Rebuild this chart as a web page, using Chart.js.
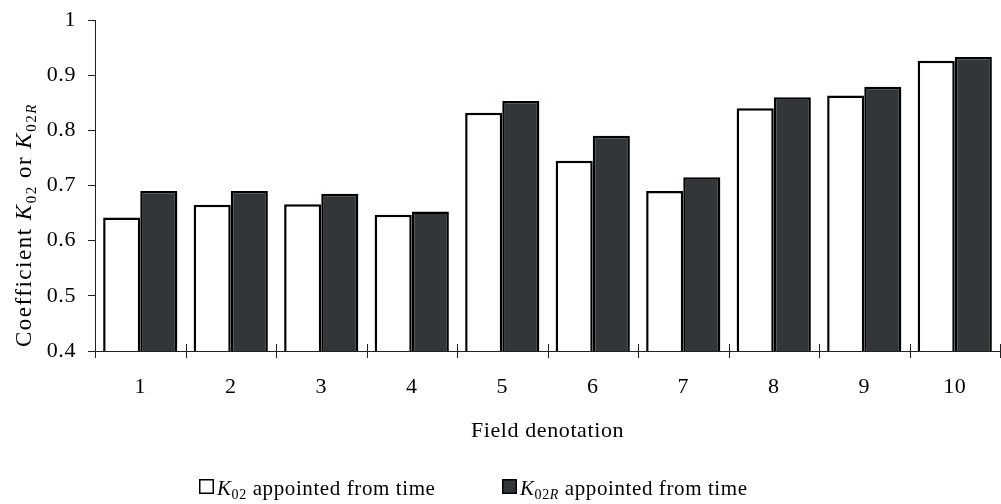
<!DOCTYPE html>
<html>
<head>
<meta charset="utf-8">
<script src="https://cdn.jsdelivr.net/npm/chart.js@4.4.0/dist/chart.umd.min.js"></script>
<style>
html, body { margin: 0; padding: 0; background: #fff; }
#wrap { width: 1001px; height: 504px; }
</style>
</head>
<body>
<div id="wrap"><canvas id="chart"></canvas></div>
<script>
// data
var fields = ['1', '2', '3', '4', '5', '6', '7', '8', '9', '10'];
var k02 = [0.642, 0.665, 0.666, 0.647, 0.832, 0.745, 0.690, 0.840, 0.863, 0.926];
var k02r = [0.690, 0.690, 0.685, 0.653, 0.853, 0.790, 0.715, 0.860, 0.879, 0.933];
var yTicks = [0.4, 0.5, 0.6, 0.7, 0.8, 0.9, 1];

var FONT = "'Liberation Serif', 'Times New Roman', serif";
var DARK = '#323638';

// text runs with italic K and subscripts
var yTitle = [
    {t: 'Coefficient '}, {t: 'K', i: 1}, {t: '02', s: 1}, {t: ' or '},
    {t: 'K', i: 1}, {t: '02', s: 1}, {t: 'R', s: 1, i: 1}
];
var legendItems = [
    {fill: '#fff', runs: [{t: 'K', i: 1}, {t: '02', s: 1}, {t: ' appointed from time'}]},
    {fill: DARK, runs: [{t: 'K', i: 1}, {t: '02', s: 1}, {t: 'R', s: 1, i: 1}, {t: ' appointed from time'}]}
];

var runFont = (r, size) => {
    let sz = r.s ? Math.round(size * 0.65) : size;
    return (r.i ? 'italic ' : '') + sz + 'px ' + FONT;
};
var drawRuns = (ctx, runs, x, y, size) => {
    ctx.textAlign = 'left';
    ctx.textBaseline = 'alphabetic';
    runs.forEach(r => {
        ctx.font = runFont(r, size);
        ctx.fillText(r.t, x, r.s ? y + size * 0.2 : y);
        x += ctx.measureText(r.t).width;
    });
};

var extras = {
    id: 'extras',
    beforeDraw(chart) {
        chart.ctx.letterSpacing = '0.6px';
    },
    afterDraw(chart) {
        let ctx = chart.ctx;
        let xs = chart.scales.x;
        let a = chart.chartArea;
        ctx.save();
        ctx.fillStyle = '#000';

        // x tick marks crossing the axis at category boundaries
        ctx.strokeStyle = '#222';
        ctx.lineWidth = 1;
        for (let i = 0; i <= fields.length; i++) {
            let px = Math.round(xs.getPixelForValue(i - 0.5)) + 0.5;
            ctx.beginPath();
            ctx.moveTo(px, a.bottom - 7);
            ctx.lineTo(px, a.bottom + 7);
            ctx.stroke();
        }

        // y title, written upwards from near the bottom of the axis
        ctx.save();
        ctx.letterSpacing = '1.5px';
        ctx.translate(31, 347);
        ctx.rotate(-Math.PI / 2);
        drawRuns(ctx, yTitle, 0, 0, 23);
        ctx.restore();

        // x title
        ctx.letterSpacing = '0.6px';
        ctx.font = '22px ' + FONT;
        ctx.textAlign = 'center';
        ctx.textBaseline = 'alphabetic';
        ctx.fillText('Field denotation', (a.left + a.right) / 2, 437);

        // legend
        legendItems.forEach((it, k) => {
            let bx = 199 + k * 303;
            ctx.fillStyle = it.fill;
            ctx.fillRect(bx, 479, 15, 15);
            ctx.strokeStyle = '#000';
            ctx.lineWidth = 1.5;
            ctx.strokeRect(bx + 0.75, 479.75, 13.5, 13.5);
            ctx.fillStyle = '#000';
            drawRuns(ctx, it.runs, bx + 18, 495, 21);
        });
        ctx.restore();
    }
};

new Chart('chart', {
    type: 'bar',
    data: {
        labels: fields,
        datasets: [{
            label: 'K02 appointed from time',
            data: k02,
            backgroundColor: '#fff',
            borderColor: '#000',
            borderWidth: 2.5
        }, {
            label: 'K02R appointed from time',
            data: k02r,
            backgroundColor: DARK,
            borderColor: '#000',
            borderWidth: 2.5
        }]
    },
    options: {
        responsive: true,
        maintainAspectRatio: false,
        animation: false,
        categoryPercentage: 0.82,
        barPercentage: 1.0,
        layout: {padding: {left: 0, right: 1, top: 20, bottom: 0}},
        plugins: {
            legend: {display: false},
            tooltip: {enabled: false}
        },
        scales: {
            x: {
                afterFit: (s) => { s.height = 153; s.paddingLeft = 0; s.paddingRight = 0; },
                grid: {display: true, drawOnChartArea: false, drawTicks: false},
                border: {display: true, color: '#222', width: 1},
                ticks: {color: '#000', padding: 23, font: {family: FONT, size: 22}}
            },
            y: {
                min: 0.4,
                max: 1,
                afterFit: (s) => { s.width = 95; s.paddingTop = 0; s.paddingBottom = 0; },
                afterBuildTicks: (s) => { s.ticks = yTicks.map(v => ({value: v})); },
                grid: {display: true, drawOnChartArea: false, tickLength: 7, color: '#222'},
                border: {display: true, color: '#222', width: 1},
                ticks: {
                    color: '#000',
                    padding: 12,
                    font: {family: FONT, size: 22},
                    callback: (v) => String(Math.round(v * 10) / 10)
                }
            }
        }
    },
    plugins: [extras]
});
</script>
</body>
</html>
